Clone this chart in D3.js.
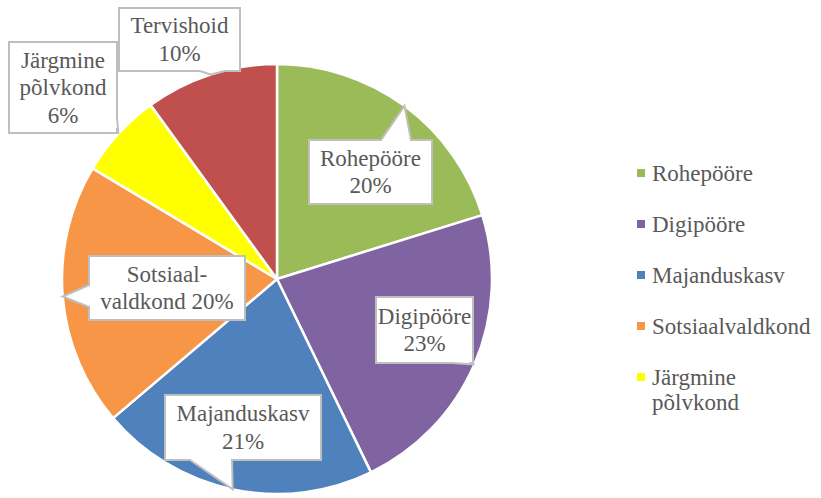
<!DOCTYPE html>
<html>
<head>
<meta charset="utf-8">
<script src="https://cdn.jsdelivr.net/npm/d3@7/dist/d3.min.js"></script>
<style>
  html, body { margin: 0; padding: 0; background: #fff; }
  svg { display: block; }
</style>
</head>
<body>
<svg id="chart" width="821" height="498"></svg>
<script>
// ---- data ----
const categories = ["Rohepööre", "Digipööre", "Majanduskasv", "Sotsiaalvaldkond", "Järgmine põlvkond", "Tervishoid"];
const values = [20.2, 22.6, 21.0, 19.8, 6.4, 10.0];
const colors = ["#9BBB59", "#8064A2", "#4F81BD", "#F79646", "#FFFF00", "#C0504D"];
// label text lines (the percentage is appended from the values)
const labelNames = [
  ["Rohepööre"],
  ["Digipööre"],
  ["Majanduskasv"],
  ["Sotsiaal-", "valdkond"],
  ["Järgmine", "põlvkond"],
  ["Tervishoid"]
];
const pctOnSameLine = [false, false, false, true, false, false];
const legendLines = [
  ["Rohepööre"],
  ["Digipööre"],
  ["Majanduskasv"],
  ["Sotsiaalvaldkond"],
  ["Järgmine", "põlvkond"]
];

// ---- layout (callout boxes: x0,y0,x1,y1, tail side and base range) ----
const layout = [
  { box: [309, 140, 432, 204], side: "top",    base: [381, 411] },
  { box: [376, 297, 473, 363], side: "bottom", base: [452, 472] },
  { box: [165, 395, 321, 460], side: "bottom", base: [190, 232] },
  { box: [89, 256, 245, 320],  side: "left",   base: [285, 307] },
  { box: [9, 42, 117, 133],    side: "right",  base: [118, 128] },
  { box: [119, 8, 240, 71],    side: "bottom", base: [200, 225] }
];

const FONT = '"Liberation Serif"';
const fontSize = 23, lineH = 27.5;
function styleText(sel, anchor) {
  sel.style("font-family", FONT)
    .style("font-size", fontSize + "px")
    .style("fill", "#595959")
    .attr("text-anchor", anchor);
  return sel;
}

const svg = d3.select("#chart");
const cx = 277, cy = 279, r = 215;
const g = svg.append("g").attr("transform", `translate(${cx},${cy})`);

const pie = d3.pie().sort(null).value(d => d);
const arcs = pie(values);
const arc = d3.arc().innerRadius(0).outerRadius(r);
const total = d3.sum(values);

g.selectAll("path.slice")
  .data(arcs)
  .enter().append("path")
  .attr("class", "slice")
  .attr("d", arc)
  .attr("fill", (d, i) => colors[i])
  .attr("stroke", "#fff")
  .attr("stroke-width", 2.5)
  .attr("stroke-linejoin", "round");

// callouts
arcs.forEach((a, i) => {
  const L = layout[i];
  const mid = (a.startAngle + a.endAngle) / 2;
  const ax = cx + r * Math.sin(mid), ay = cy - r * Math.cos(mid);
  const [x0, y0, x1, y1] = L.box;
  const [b0, b1] = L.base;
  let p;
  if (L.side === "top") {
    p = [[x0, y0], [b0, y0], [ax, ay], [b1, y0], [x1, y0], [x1, y1], [x0, y1]];
  } else if (L.side === "bottom") {
    p = [[x0, y0], [x1, y0], [x1, y1], [b1, y1], [ax, ay], [b0, y1], [x0, y1]];
  } else if (L.side === "left") {
    p = [[x0, y0], [x1, y0], [x1, y1], [x0, y1], [x0, b1], [ax, ay], [x0, b0]];
  } else {
    p = [[x0, y0], [x1, y0], [x1, b0], [ax, ay], [x1, b1], [x1, y1], [x0, y1]];
  }
  svg.append("path")
    .attr("d", d3.line()(p) + "Z")
    .attr("fill", "#fff")
    .attr("stroke", "#BFBFBF")
    .attr("stroke-width", 2)
    .attr("stroke-linejoin", "miter");
  const pct = Math.round(values[i] / total * 100) + "%";
  const lines = labelNames[i].slice();
  if (pctOnSameLine[i]) lines[lines.length - 1] += " " + pct;
  else lines.push(pct);
  const tx = (x0 + x1) / 2;
  const midY = (y0 + y1) / 2;
  const firstBase = midY - (lines.length - 1) * lineH / 2 + fontSize * 0.33;
  lines.forEach((ln, k) => {
    styleText(svg.append("text"), "middle")
      .attr("x", tx).attr("y", firstBase + k * lineH).text(ln);
  });
});

// legend
const legY = d3.scaleLinear().domain([0, 1]).range([173, 224]);
legendLines.forEach((lines, i) => {
  const y = legY(i);
  svg.append("rect")
    .attr("x", 637).attr("y", y - 4).attr("width", 8).attr("height", 8)
    .attr("fill", colors[i]);
  lines.forEach((ln, k) => {
    styleText(svg.append("text"), "start")
      .attr("x", 652).attr("y", y + 7.5 + k * 25.5).text(ln);
  });
});
</script>
</body>
</html>
